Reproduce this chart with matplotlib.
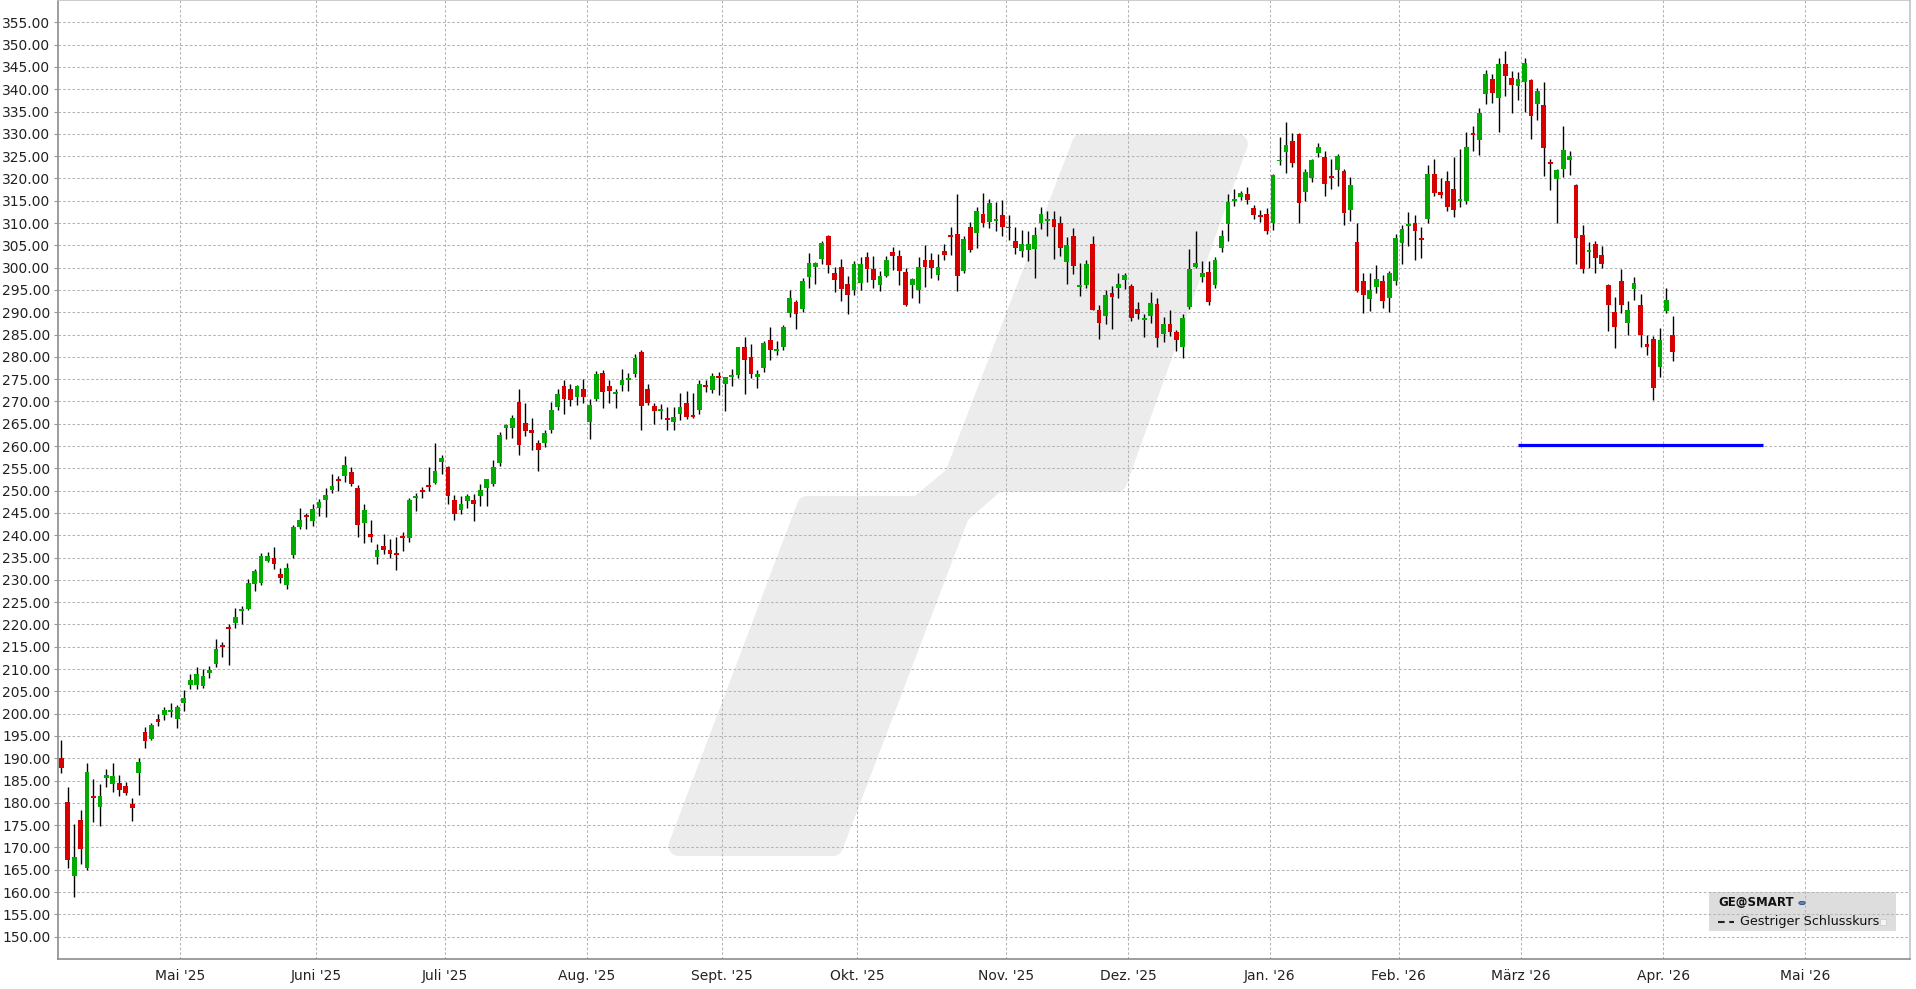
import numpy as np
import pandas as pd
import matplotlib
matplotlib.use("Agg")
import matplotlib.pyplot as plt
from matplotlib.patches import Polygon, Rectangle, Circle
from matplotlib.lines import Line2D

# ---- data: GE@SMART daily candles (03.04.2025 - 02.04.2026) ----
first_day = "2025-04-03"
last_day = "2026-04-02"
axis_end = "2026-05-22"
holidays = ["2025-04-18", "2025-05-26", "2025-06-19", "2025-07-04", "2025-09-01",
            "2025-11-27", "2025-12-25", "2026-01-01", "2026-01-19", "2026-02-16"]

opens = [190.1, 180.2, 163.5, 176.1, 165.4, 181.6, 179.0, 185.6, 184.2, 184.4,
         183.8, 179.8, 186.6, 196.0, 194.4, 198.7, 199.6, 200.4, 198.7, 202.3,
         206.4, 206.4, 206.2, 209.1, 211.1, 215.3, 219.4, 220.3, 223.0, 223.4,
         229.0, 229.4, 234.3, 234.8, 231.3, 228.9, 235.6, 241.9, 244.6, 243.3,
         246.0, 247.8, 250.2, 252.7, 253.2, 254.1, 250.7, 242.8, 240.2, 235.2,
         237.5, 236.8, 236.0, 239.8, 239.4, 248.3, 250.0, 251.2, 251.8, 256.4,
         255.4, 248.0, 245.6, 247.6, 248.0, 248.9, 250.6, 251.4, 256.2, 264.0,
         264.0, 269.8, 265.2, 263.7, 260.6, 260.7, 263.5, 268.7, 273.4, 272.7,
         271.0, 272.9, 265.5, 270.5, 276.3, 273.4, 271.6, 273.6, 274.8, 276.1,
         281.0, 272.9, 268.9, 267.8, 266.2, 265.3, 267.2, 269.6, 266.9, 268.1,
         273.6, 272.5, 275.8, 273.9, 275.4, 275.9, 282.1, 279.9, 275.5, 277.6,
         283.7, 281.3, 282.1, 289.9, 292.2, 290.8, 297.8, 300.2, 301.9, 307.0,
         298.7, 300.1, 296.4, 294.9, 296.5, 302.3, 299.6, 296.1, 298.2, 303.4,
         302.7, 299.1, 296.1, 294.9, 301.6, 301.8, 298.3, 303.8, 307.4, 307.6,
         299.2, 309.2, 307.7, 312.1, 310.2, 310.4, 311.7, 309.2, 305.9, 303.7,
         303.9, 304.2, 310.0, 310.4, 310.8, 310.1, 301.2, 307.0, 295.6, 296.1,
         305.3, 290.6, 289.2, 294.4, 295.4, 297.2, 295.8, 290.8, 288.2, 289.1,
         291.8, 285.1, 287.3, 285.5, 282.1, 291.1, 300.1, 297.8, 299.1, 296.1,
         304.4, 309.7, 315.0, 315.9, 316.5, 313.4, 311.8, 312.0, 309.9, 323.8,
         326.0, 328.4, 330.0, 317.0, 320.2, 325.6, 324.8, 320.5, 321.8, 321.7,
         313.0, 305.7, 297.0, 293.0, 295.6, 297.0, 293.2, 297.1, 305.5, 309.4,
         309.9, 306.6, 310.8, 321.0, 317.0, 319.4, 317.6, 314.9, 315.0, 330.2,
         328.6, 338.9, 342.2, 338.0, 345.6, 342.6, 340.7, 341.6, 342.0, 336.6,
         336.5, 323.7, 319.9, 322.2, 324.2, 318.6, 307.3, 303.6, 305.3, 302.8,
         296.1, 290.0, 297.0, 287.5, 295.1, 291.6, 282.8, 283.9, 277.8, 290.2,
         284.8]

highs = [194.1, 183.6, 175.2, 178.4, 189.0, 185.4, 184.3, 187.6, 188.9, 186.2,
         184.6, 181.2, 190.1, 197.1, 197.8, 200.0, 201.5, 202.5, 202.0, 205.2,
         208.8, 210.5, 210.1, 210.6, 216.8, 216.1, 220.0, 223.6, 224.1, 230.1,
         232.4, 236.0, 236.2, 237.4, 232.7, 233.8, 242.3, 246.0, 245.0, 247.0,
         248.1, 250.5, 253.7, 253.3, 257.7, 255.4, 251.2, 247.0, 243.5, 238.1,
         240.2, 239.2, 239.6, 240.8, 248.4, 249.4, 250.9, 255.4, 260.6, 257.9,
         255.6, 249.1, 248.7, 249.3, 249.3, 251.6, 252.7, 256.8, 263.1, 265.0,
         266.9, 272.7, 269.6, 266.2, 261.4, 263.7, 269.8, 272.7, 274.7, 273.8,
         273.6, 275.0, 270.5, 276.8, 277.0, 274.9, 272.8, 277.2, 276.3, 280.6,
         281.5, 274.0, 269.6, 269.5, 268.8, 268.8, 271.8, 272.3, 271.8, 274.7,
         274.7, 276.4, 276.5, 275.4, 277.2, 282.3, 284.4, 282.8, 277.0, 283.5,
         286.8, 283.5, 287.2, 294.9, 292.8, 297.7, 303.2, 301.3, 305.9, 307.3,
         300.2, 302.0, 298.1, 301.5, 302.3, 303.6, 302.7, 299.3, 302.7, 304.7,
         304.0, 300.0, 297.6, 302.3, 305.0, 303.2, 303.0, 305.3, 309.1, 316.5,
         307.2, 310.3, 313.5, 316.7, 315.3, 314.8, 315.1, 311.7, 309.2, 308.5,
         308.1, 309.0, 313.7, 312.8, 312.6, 311.5, 306.8, 308.8, 301.1, 301.8,
         307.1, 291.7, 295.0, 295.8, 298.7, 298.9, 296.4, 292.2, 289.6, 294.6,
         293.3, 289.0, 290.6, 286.0, 289.5, 304.1, 308.2, 301.4, 301.4, 302.3,
         308.5, 316.4, 317.6, 317.2, 318.1, 314.0, 312.9, 313.4, 321.0, 329.3,
         332.7, 330.2, 330.2, 322.1, 324.4, 328.0, 326.2, 324.4, 325.5, 322.1,
         320.3, 309.9, 298.9, 298.8, 300.6, 298.3, 299.2, 307.5, 309.6, 312.5,
         311.8, 309.2, 323.0, 324.4, 320.1, 321.7, 324.8, 326.5, 330.4, 331.7,
         335.8, 344.2, 343.3, 346.9, 348.5, 344.0, 343.8, 347.1, 342.4, 340.2,
         341.7, 324.4, 322.1, 331.8, 326.2, 318.8, 309.6, 305.7, 306.0, 304.8,
         296.3, 293.4, 299.7, 292.5, 297.9, 294.0, 284.8, 284.6, 286.4, 295.4,
         289.1]

lows = [186.6, 165.4, 159.0, 166.2, 165.0, 175.7, 174.9, 183.6, 182.4, 181.5,
        181.8, 176.0, 181.8, 192.4, 194.1, 197.2, 198.5, 199.2, 196.8, 200.7,
        205.5, 205.5, 205.8, 208.1, 210.4, 212.7, 211.0, 219.2, 220.2, 223.2,
        227.5, 228.8, 233.9, 232.4, 229.3, 227.9, 234.9, 241.4, 241.4, 242.1,
        244.4, 244.2, 249.5, 250.0, 252.0, 251.1, 239.6, 238.3, 238.6, 233.6,
        235.8, 234.8, 232.3, 236.4, 238.4, 245.4, 248.4, 249.9, 251.5, 253.7,
        246.9, 243.4, 244.7, 246.2, 243.2, 246.5, 246.5, 251.1, 255.6, 261.6,
        261.8, 258.0, 262.2, 259.2, 254.4, 259.8, 262.9, 268.0, 267.2, 268.9,
        269.2, 269.6, 261.6, 270.1, 268.6, 269.6, 268.6, 272.3, 272.3, 275.5,
        263.7, 269.2, 264.9, 266.1, 263.6, 263.6, 265.8, 266.1, 266.3, 267.2,
        272.1, 271.9, 271.4, 267.8, 273.4, 275.3, 271.7, 275.2, 273.1, 276.6,
        279.4, 280.4, 281.5, 288.9, 286.3, 290.1, 295.4, 296.3, 300.9, 298.7,
        294.6, 292.6, 289.6, 293.8, 294.9, 296.7, 295.5, 294.7, 297.8, 299.5,
        296.1, 291.4, 293.1, 292.0, 295.7, 297.6, 297.2, 301.7, 302.9, 294.7,
        298.7, 303.4, 304.4, 309.2, 308.8, 308.3, 307.0, 306.2, 303.0, 302.3,
        301.4, 297.6, 308.7, 307.0, 301.9, 302.6, 296.3, 298.5, 293.6, 295.4,
        290.4, 284.0, 287.3, 286.2, 293.1, 295.3, 288.0, 288.4, 284.4, 287.5,
        282.2, 283.3, 284.6, 281.2, 279.7, 290.7, 299.9, 296.7, 291.6, 295.4,
        303.5, 305.9, 313.8, 315.1, 314.3, 311.0, 310.3, 307.5, 308.5, 323.1,
        321.3, 322.6, 310.1, 314.9, 319.3, 324.7, 316.1, 317.7, 318.4, 309.5,
        310.5, 294.6, 289.9, 290.3, 294.4, 290.9, 290.1, 296.2, 300.9, 304.8,
        301.8, 302.2, 310.1, 316.1, 315.7, 312.6, 311.4, 313.6, 314.3, 326.2,
        325.3, 336.6, 336.8, 330.5, 338.4, 334.6, 337.5, 335.0, 328.9, 333.2,
        320.6, 317.4, 309.9, 320.4, 320.8, 300.8, 298.8, 299.9, 298.8, 299.9,
        285.7, 281.9, 289.8, 285.0, 292.7, 282.3, 280.5, 270.4, 275.4, 289.8,
        279.0]

closes = [187.8, 167.2, 167.9, 169.7, 187.0, 181.2, 181.5, 186.2, 186.0, 182.9,
          182.2, 178.9, 189.2, 193.8, 197.5, 198.1, 200.9, 200.7, 201.5, 203.6,
          207.6, 208.9, 208.5, 209.9, 214.6, 214.9, 219.0, 221.6, 223.4, 229.4,
          231.9, 235.3, 235.3, 233.6, 230.4, 232.7, 241.8, 243.5, 244.1, 245.8,
          247.4, 249.1, 251.1, 252.2, 255.8, 251.6, 242.2, 245.7, 239.7, 236.6,
          236.8, 235.9, 235.6, 239.4, 247.8, 248.7, 249.7, 250.8, 254.5, 257.4,
          248.9, 244.7, 246.9, 248.7, 246.9, 250.2, 252.5, 255.4, 262.4, 264.7,
          266.2, 260.2, 263.3, 262.9, 259.1, 263.0, 268.0, 271.6, 270.5, 270.3,
          273.4, 271.0, 269.3, 276.1, 272.1, 272.3, 272.1, 274.9, 275.2, 279.7,
          269.0, 269.6, 267.8, 268.4, 265.8, 266.4, 268.7, 266.5, 266.5, 273.8,
          273.2, 275.8, 275.2, 275.4, 275.9, 282.1, 279.3, 276.2, 276.1, 283.2,
          281.6, 281.7, 286.8, 293.1, 289.5, 297.1, 301.1, 301.1, 305.6, 300.5,
          297.3, 295.1, 293.8, 300.9, 300.9, 299.6, 297.2, 298.2, 301.8, 302.7,
          299.3, 291.6, 297.5, 300.2, 300.2, 299.9, 300.2, 302.8, 306.8, 298.1,
          306.5, 303.9, 312.8, 310.0, 314.4, 310.9, 309.1, 308.8, 304.4, 305.2,
          305.4, 307.4, 312.0, 310.8, 309.1, 304.4, 305.0, 300.3, 296.1, 300.9,
          290.6, 287.5, 293.8, 293.4, 296.4, 298.4, 288.7, 289.5, 288.6, 292.0,
          284.2, 287.3, 285.5, 283.7, 288.6, 299.8, 301.1, 298.9, 292.2, 301.8,
          307.2, 314.8, 315.4, 316.7, 315.2, 311.7, 311.4, 308.1, 320.8, 324.1,
          327.5, 323.5, 314.4, 321.5, 324.1, 327.1, 318.8, 320.0, 325.1, 312.3,
          318.5, 294.8, 293.9, 295.0, 297.4, 292.6, 298.8, 306.6, 308.7, 309.8,
          308.3, 306.3, 321.0, 316.8, 316.3, 313.7, 313.0, 315.4, 327.1, 329.7,
          334.7, 343.3, 339.1, 345.6, 342.9, 340.9, 342.2, 345.8, 334.1, 339.7,
          326.9, 323.2, 321.9, 326.4, 325.1, 306.7, 299.6, 304.0, 302.1, 300.8,
          291.6, 286.6, 291.6, 290.4, 296.6, 285.0, 282.3, 273.1, 283.7, 292.7,
          281.0]

# horizontal blue marker line
blue_level = 260.2
blue_from = "2026-02-27"
blue_to = "2026-04-22"

month_names = {1: "Jan.", 2: "Feb.", 3: "März", 4: "Apr.", 5: "Mai", 6: "Juni",
               7: "Juli", 8: "Aug.", 9: "Sept.", 10: "Okt.", 11: "Nov.", 12: "Dez."}

# ---- trading calendar (x axis = trading day index) ----
trade_days = pd.bdate_range(first_day, last_day)
trade_days = trade_days[~trade_days.isin(pd.to_datetime(holidays))]
future_days = pd.bdate_range(pd.Timestamp(last_day) + pd.Timedelta(days=1), axis_end)
all_days = trade_days.append(future_days)
pos = {d: i for i, d in enumerate(all_days)}

o = np.array(opens); h = np.array(highs); l = np.array(lows); c = np.array(closes)
x = np.arange(len(c))

W, H = 1916, 989
fig = plt.figure(figsize=(W / 100, H / 100), dpi=100)
ax = fig.add_axes([58 / W, 30 / H, 1852 / W, 959 / H])


def inset(pts, d):
    # shift polygon edges inward by d (pixels), so a round stroke of width 2d
    # gives back the outline with rounded corners
    p = np.array(pts, dtype=float)
    area = 0.5 * np.sum(p[:, 0] * np.roll(p[:, 1], -1) - np.roll(p[:, 0], -1) * p[:, 1])
    sgn = 1.0 if area > 0 else -1.0
    out = []
    n = len(p)
    for i in range(n):
        e1 = p[i] - p[i - 1]
        e2 = p[(i + 1) % n] - p[i]
        n1 = sgn * np.array([-e1[1], e1[0]]) / np.hypot(*e1)
        n2 = sgn * np.array([-e2[1], e2[0]]) / np.hypot(*e2)
        out.append(p[i] + d * (n1 + n2) / (1 + n1 @ n2))
    return out


# watermark logo (figure pixel coords, y up)
wm = [(664, 856), (840, 856), (968, 520), (1000, 492), (1124, 492), (1252, 134),
      (1075, 134), (946, 470), (915, 496), (800, 496)]
wm = inset([(px, H - py) for px, py in wm], 10)
wm = [(px / W, py / H) for px, py in wm]
ax.add_patch(Polygon(wm, closed=True, transform=fig.transFigure, facecolor="#ececec",
                     edgecolor="#ececec", linewidth=14.4, joinstyle="round", zorder=0.1))

# legend box background (below grid)
ax.add_patch(Rectangle((1709 / W, 1 - 931 / H), 187 / W, 39 / H, transform=fig.transFigure,
                       facecolor="#dddddd", edgecolor="none", zorder=0.2))

# candles
up = c >= o
red = "#d70000"
green = "#00aa00"
ax.vlines(x, l, h, color="black", linewidth=1.0, zorder=2)
body_lo = np.minimum(o, c)
body_hi = np.maximum(o, c)
body_h = np.maximum(body_hi - body_lo, 0.35)
ax.bar(x, body_h, bottom=body_lo, width=0.74, color=np.where(up, green, red),
       edgecolor="none", zorder=3)

# blue line
ax.hlines(blue_level, pos[pd.Timestamp(blue_from)], pos[pd.Timestamp(blue_to)],
          color="#0000ff", linewidth=2.3, zorder=4)

# axes
ax.set_xlim(-0.5, len(all_days) - 0.2)
ax.set_ylim(145, 360)
yt = np.arange(150, 356, 5)
ax.set_yticks(yt)
ax.set_yticklabels([f"{v:.2f}" for v in yt])

mt, ml = [], []
for i in range(1, len(all_days)):
    if all_days[i].month != all_days[i - 1].month:
        mt.append(i - 0.5)
        ml.append(f"{month_names[all_days[i].month]} '{all_days[i].strftime('%y')}")
ax.set_xticks(mt)
ax.set_xticklabels(ml)

ax.set_axisbelow(True)
ax.grid(True, color="#b4b4b4", linestyle=(0, (2.5, 2)), linewidth=0.75, zorder=0.5)
ax.tick_params(axis="y", length=3, width=0.8, color="#999999", pad=2.5,
               labelsize=10, labelcolor="#222222")
ax.tick_params(axis="x", length=0, pad=7, labelsize=10, labelcolor="#222222")
for s in ["left", "bottom"]:
    ax.spines[s].set_color("#8c8c8c")
    ax.spines[s].set_linewidth(1.2)
for s in ["top", "right"]:
    ax.spines[s].set_color("#c4c4c4")
    ax.spines[s].set_linewidth(1.2)

# legend contents
fig.text(1718 / W, 1 - 903 / H, "GE@SMART", fontsize=8.5, fontweight="bold",
         color="#111111", va="center", ha="left")
fig.patches.append(Circle((1802 / W, 1 - 903 / H), 3.2 / W, transform=fig.transFigure,
                          facecolor="#5b86b8", edgecolor="#2d4f78", linewidth=0.6))
fig.lines.append(Line2D([1718 / W, 1734 / W], [1 - 922 / H, 1 - 922 / H],
                        transform=fig.transFigure, color="#222222", linewidth=1.5,
                        linestyle=(0, (3.2, 2.2))))
fig.text(1740 / W, 1 - 922 / H, "Gestriger Schlusskurs", fontsize=9.2,
         color="#111111", va="center", ha="left")
fig.patches.append(Rectangle((1880 / W, 1 - 925 / H), 6 / W, 6 / H,
                             transform=fig.transFigure, facecolor="#f6f6f6",
                             edgecolor="#cfcfcf", linewidth=0.6))

fig.savefig("out.png", dpi=100)
